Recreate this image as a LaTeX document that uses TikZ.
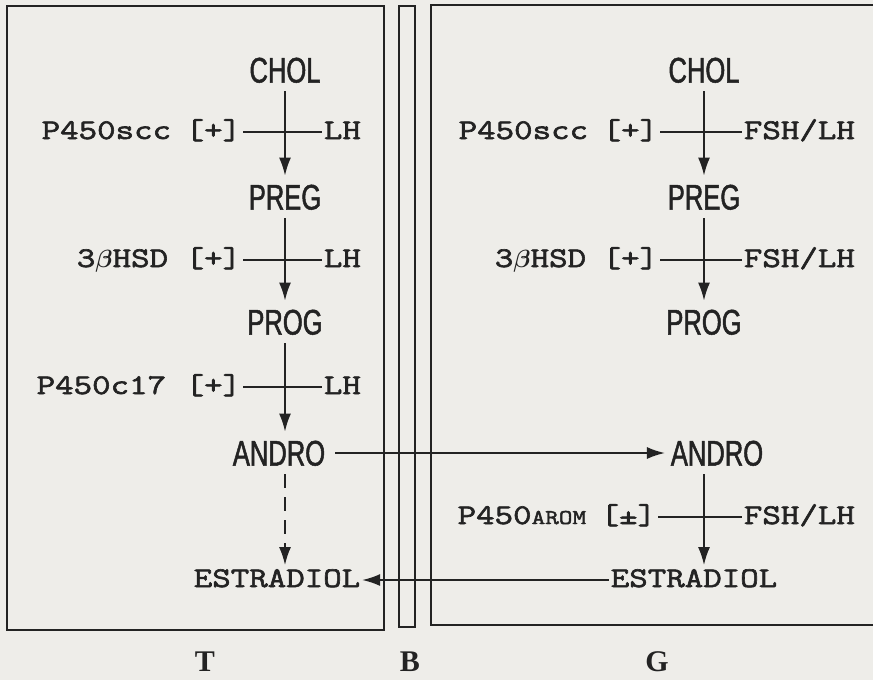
\documentclass[tikz,border=0pt]{standalone}
\usepackage{fontspec}
\usetikzlibrary{arrows.meta}
\newfontfamily\monof[FakeStretch=1.26,FakeBold=2.2]{Latin Modern Mono}
\newfontfamily\narrowf[FakeStretch=0.72,FakeBold=1.4]{Liberation Sans}
\newfontfamily\seriff{Liberation Serif}
\definecolor{paper}{RGB}{238,237,233}
\definecolor{ink}{RGB}{35,35,35}
\newcommand{\bbeta}{{\boldmath$\beta$}}
\begin{document}
\begin{tikzpicture}[x=1pt,y=-1pt,line width=1.8pt,color=ink,
  hor/.style={font={\narrowf\fontsize{35.5}{35.5}\selectfont},inner xsep=5pt,inner ysep=8pt,text height=25pt,text depth=0pt,text=ink},
  mono/.style={font={\monof\fontsize{28.5}{28.5}\selectfont},inner sep=1pt,text height=20pt,text depth=6pt,text=ink},
  pane/.style={line width=2pt},
  arr/.style={-{Latex[length=18pt,width=12pt]}},
  lab/.style={font={\seriff\bfseries\fontsize{30}{30}\selectfont},text=ink}]
\fill[paper] (0,0) rectangle (873,680);
\useasboundingbox (0,0) rectangle (873,680);
% panes
\draw[pane] (7,6) rectangle (384,630);
\draw[pane] (399,6) rectangle (415,627);
\draw[pane] (880,5) -- (431,5) -- (431,625) -- (880,625);
% T column
\node[hor] (cholT) at (285,70) {CHOL};
\node[hor] (pregT) at (285,197) {PREG};
\node[hor] (progT) at (285,322) {PROG};
\node[hor] (androT) at (279,453) {ANDRO};
\node[mono] (estrT) at (277,580) {ESTRADIOL};
\node[mono,anchor=east] (e1T) at (173,132) {P450scc};
\node[mono,anchor=east] (p1T) at (243,132) {[+]};
\node[mono,anchor=west] (h1T) at (322,132) {LH};
\node[mono,anchor=east] (e2T) at (170,260) {3\bbeta HSD};
\node[mono,anchor=east] (p2T) at (243,260) {[+]};
\node[mono,anchor=west] (h2T) at (322,260) {LH};
\node[mono,anchor=east] (e3T) at (168,387) {P450c17};
\node[mono,anchor=east] (p3T) at (243,387) {[+]};
\node[mono,anchor=west] (h3T) at (322,387) {LH};
\draw[arr] (cholT.south) -- (pregT.north);
\draw[arr] (pregT.south) -- (progT.north);
\draw[arr] (progT.south) -- (progT.south |- androT.north);
\draw[arr,dash pattern=on 14pt off 9pt] (progT.south |- androT.south) -- (progT.south |- estrT.north);
\draw (p1T.east) -- (h1T.west);
\draw (p2T.east) -- (h2T.west);
\draw (p3T.east) -- (h3T.west);
% G column
\node[hor] (cholG) at (704,70) {CHOL};
\node[hor] (pregG) at (704,197) {PREG};
\node[hor] (progG) at (704,322) {PROG};
\node[hor] (androG) at (717,453) {ANDRO};
\node[mono] (estrG) at (694,580) {ESTRADIOL};
\node[mono,anchor=east] (e1G) at (590,132) {P450scc};
\node[mono,anchor=east] (p1G) at (660,132) {[+]};
\node[mono,anchor=west] (h1G) at (742,132) {FSH/LH};
\node[mono,anchor=east] (e2G) at (588,260) {3\bbeta HSD};
\node[mono,anchor=east] (p2G) at (660,260) {[+]};
\node[mono,anchor=west] (h2G) at (742,260) {FSH/LH};
\node[mono,anchor=east] (e3G) at (588,517) {P450{\fontsize{21}{21}\selectfont AROM}};
\node[mono,anchor=east] (p3G) at (658,517) {[±]};
\node[mono,anchor=west] (h3G) at (742,517) {FSH/LH};
\draw[arr] (cholG.south) -- (pregG.north);
\draw[arr] (pregG.south) -- (progG.north);
\draw[arr] (cholG.south |- androG.south) -- (cholG.south |- estrG.north);
\draw (p1G.east) -- (h1G.west);
\draw (p2G.east) -- (h2G.west);
\draw (p3G.east) -- (h3G.west);
% cross connectors
\draw[arr] ([xshift=4pt]androT.east) -- (androG.west);
\draw[arr] (estrG.west) -- (estrT.east);
% pane labels
\node[lab] (labT) at (205,662) {T};
\node[lab] (labB) at (410,662) {B};
\node[lab] (labG) at (657,662) {G};
\end{tikzpicture}
\end{document}
